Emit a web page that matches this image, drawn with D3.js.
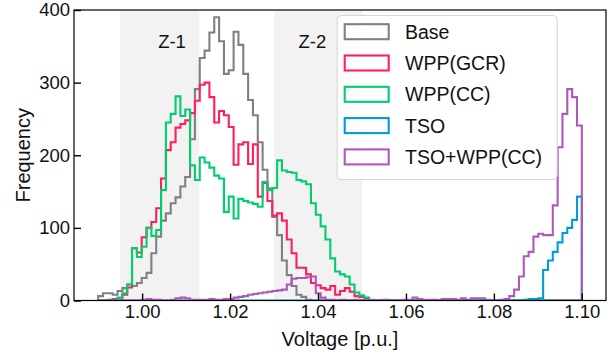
<!DOCTYPE html>
<html>
<head>
<meta charset="utf-8">
<script src="https://cdn.jsdelivr.net/npm/d3@7"></script>
<style>
    html, body { margin: 0; padding: 0; background: #fff; }
    svg text { font-family: "Liberation Sans", Arial, sans-serif; fill: #111; }
</style>
</head>
<body>
<div id="chart"></div>
<script>
// Voltage histograms, 100 common bins from 0.99 to 1.10 p.u.
const binStart = 0.99;
const binWidth = 0.0011;

const seriesNames = ['Base', 'WPP(GCR)', 'WPP(CC)', 'TSO', 'TSO+WPP(CC)'];
const seriesColors = ['#808080', '#ff1f5b', '#00cd6c', '#009ade', '#af58ba'];

const baseCounts = [
    6, 10, 10, 8, 13, 17, 22, 20, 24, 31,
    38, 65, 88, 110, 120, 134, 142, 157, 170, 222,
    291, 334, 344, 369, 390, 357, 312, 317, 370, 352,
    312, 276, 255, 218, 180, 154, 115, 90, 55, 35,
    20, 8, 5, 1, 0, 0, 0, 0, 0, 0,
    0, 0, 0, 0, 0, 0, 0, 0, 0, 0,
    0, 0, 0, 0, 0, 0, 0, 0, 0, 0,
    0, 0, 0, 0, 0, 0, 0, 0, 0, 0,
    0, 0, 0, 0, 0, 0, 0, 0, 0, 0,
    0, 0, 0, 0, 0, 0, 0, 0, 0, 0
];
const gcrCounts = [
    0, 0, 1, 2, 3, 8, 18, 72, 66, 87,
    100, 108, 127, 168, 207, 218, 238, 243, 248, 258,
    275, 297, 300, 280, 245, 261, 255, 239, 187, 215,
    218, 188, 215, 143, 162, 137, 117, 120, 110, 84,
    65, 45, 45, 36, 24, 21, 17, 15, 20, 8,
    13, 17, 12, 6, 5, 2, 0, 0, 0, 0,
    0, 0, 0, 0, 0, 0, 0, 0, 0, 0,
    0, 0, 0, 0, 0, 0, 0, 0, 0, 0,
    0, 0, 0, 0, 0, 0, 0, 0, 0, 0,
    0, 0, 0, 0, 0, 0, 0, 0, 0, 0
];
const ccCounts = [
    0, 0, 0, 1, 4, 10, 22, 72, 60, 74,
    100, 89, 97, 152, 245, 257, 281, 254, 263, 186,
    166, 197, 190, 183, 172, 168, 122, 143, 113, 140,
    137, 135, 133, 129, 163, 152, 155, 193, 179, 177,
    176, 166, 164, 160, 134, 118, 102, 84, 58, 40,
    36, 33, 22, 11, 7, 4, 0, 0, 0, 0,
    0, 0, 0, 0, 0, 0, 0, 0, 0, 0,
    0, 0, 0, 0, 0, 0, 0, 0, 0, 0,
    0, 0, 0, 0, 0, 0, 0, 0, 0, 0,
    0, 0, 0, 0, 0, 0, 0, 0, 0, 0
];
const tsoCounts = [
    0, 0, 0, 0, 0, 0, 0, 0, 0, 0,
    0, 0, 0, 0, 0, 0, 0, 0, 0, 0,
    0, 0, 0, 0, 0, 0, 0, 0, 0, 0,
    0, 0, 0, 0, 0, 0, 0, 0, 0, 0,
    0, 0, 0, 0, 0, 0, 0, 0, 0, 0,
    0, 0, 0, 0, 0, 0, 0, 0, 0, 0,
    0, 0, 0, 0, 0, 0, 0, 0, 0, 0,
    0, 0, 0, 0, 0, 0, 0, 0, 0, 0,
    0, 0, 0, 0, 0, 0, 0, 0, 1, 2,
    2, 3, 42, 55, 67, 80, 93, 100, 111, 143
];
const tsoCcCounts = [
    0, 0, 0, 0, 0, 0, 0, 0, 0, 1,
    2, 1, 1, 0, 0, 1, 3, 4, 3, 1,
    1, 1, 1, 2, 1, 1, 2, 2, 4, 5,
    6, 8, 9, 10, 11, 12, 13, 14, 15, 22,
    30, 31, 31, 32, 33, 10, 4, 1, 1, 0,
    1, 0, 0, 1, 0, 1, 1, 0, 0, 1,
    0, 0, 0, 1, 1, 4, 2, 1, 1, 1,
    0, 2, 2, 2, 1, 3, 1, 3, 3, 3,
    1, 0, 0, 1, 2, 6, 15, 33, 61, 67,
    88, 92, 90, 90, 131, 211, 257, 291, 280, 241
];

const zoneLabels = ['Z-1', 'Z-2'];
const zoneStarts = [0.995, 1.03];
const zoneEnds = [1.013, 1.05];
const zoneLabelX = [1.0068, 1.0387];
const zoneLabelY = 348;

const xTicks = [1.00, 1.02, 1.04, 1.06, 1.08, 1.10];
const yTicks = [0, 100, 200, 300, 400];

const HistChart = {
    width: 616,
    height: 354,
    margin: { top: 10, right: 10, bottom: 53.5, left: 74 },

    render() {
        const allCounts = [baseCounts, gcrCounts, ccCounts, tsoCounts, tsoCcCounts];
        const nBins = baseCounts.length;
        const binEnd = binStart + nBins * binWidth;
        const pad = (binEnd - binStart) * 0.05;

        const m = this.margin;
        const w = this.width - m.left - m.right;
        const h = this.height - m.top - m.bottom;

        const svg = d3.select('#chart')
            .append('svg')
            .attr('width', this.width)
            .attr('height', this.height);

        const g = svg.append('g')
            .attr('transform', `translate(${m.left},${m.top})`);

        const x = d3.scaleLinear()
            .domain([binStart - pad, binEnd + pad])
            .range([0, w]);

        const y = d3.scaleLinear()
            .domain([0, 400])
            .range([h, 0]);

        g.append('clipPath')
            .attr('id', 'plot-clip')
            .append('rect')
            .attr('width', w)
            .attr('height', h);

        // Shaded zones
        zoneLabels.forEach((label, i) => {
            g.append('rect')
                .attr('x', x(zoneStarts[i]))
                .attr('y', 0)
                .attr('width', x(zoneEnds[i]) - x(zoneStarts[i]))
                .attr('height', h)
                .attr('fill', '#f2f2f2');
        });

        // Step outlines
        const line = d3.line()
            .x(d => x(d[0]))
            .y(d => y(d[1]))
            .curve(d3.curveStepAfter);

        const plot = g.append('g').attr('clip-path', 'url(#plot-clip)');

        allCounts.forEach((counts, s) => {
            const pts = [[binStart, 0]];
            counts.forEach((c, i) => pts.push([binStart + i * binWidth, c]));
            pts.push([binEnd, counts[nBins - 1]]);
            pts.push([binEnd, 0]);

            plot.append('path')
                .datum(pts)
                .attr('fill', 'none')
                .attr('stroke', seriesColors[s])
                .attr('stroke-width', 2.1)
                .attr('stroke-linejoin', 'miter')
                .attr('d', line);
        });

        // Zone labels
        zoneLabels.forEach((label, i) => {
            g.append('text')
                .attr('x', x(zoneLabelX[i]))
                .attr('y', y(zoneLabelY))
                .attr('text-anchor', 'middle')
                .attr('font-size', '18.5px')
                .text(label);
        });

        // Frame
        g.append('rect')
            .attr('width', w)
            .attr('height', h)
            .attr('fill', 'none')
            .attr('stroke', '#000')
            .attr('stroke-width', 1.2);

        // Axes, ticks pointing inward
        const xAxis = g.append('g')
            .attr('transform', `translate(0,${h})`)
            .call(d3.axisBottom(x).tickValues(xTicks).tickFormat(d3.format('.2f'))
                .tickSizeInner(-7).tickSizeOuter(0).tickPadding(4.5));
        const yAxis = g.append('g')
            .call(d3.axisLeft(y).tickValues(yTicks).tickFormat(d3.format('d'))
                .tickSizeInner(-7).tickSizeOuter(0).tickPadding(4));

        [xAxis, yAxis].forEach(ax => {
            ax.select('.domain').remove();
            ax.selectAll('.tick line').attr('stroke', '#000').attr('stroke-width', 1.4);
            ax.selectAll('.tick text')
                .attr('font-size', '18.5px')
                .attr('font-family', '"Liberation Sans", Arial, sans-serif')
                .attr('fill', '#111');
        });

        // Axis titles
        g.append('text')
            .attr('x', w / 2)
            .attr('y', h + 45)
            .attr('text-anchor', 'middle')
            .attr('font-size', '20px')
            .text('Voltage [p.u.]');

        g.append('text')
            .attr('transform', 'rotate(-90)')
            .attr('x', -h / 2)
            .attr('y', -44.5)
            .attr('text-anchor', 'middle')
            .attr('font-size', '20px')
            .text('Frequency');

        this.addLegend(g);
    },

    addLegend(g) {
        const lx = 336.7 - this.margin.left;
        const ly = 15 - this.margin.top;
        const rowH = 31.3;

        const legend = g.append('g').attr('transform', `translate(${lx},${ly})`);

        legend.append('rect')
            .attr('x', 0.5)
            .attr('y', 0.5)
            .attr('width', 220)
            .attr('height', 164)
            .attr('rx', 4)
            .attr('fill', '#fff')
            .attr('fill-opacity', 0.8)
            .attr('stroke', '#d6d6d6')
            .attr('stroke-width', 1);

        seriesNames.forEach((name, i) => {
            const cy = 16.7 + i * rowH;
            legend.append('rect')
                .attr('x', 8)
                .attr('y', cy - 7.5)
                .attr('width', 44)
                .attr('height', 15)
                .attr('fill', 'none')
                .attr('stroke', seriesColors[i])
                .attr('stroke-width', 2.1);

            legend.append('text')
                .attr('x', 68.3)
                .attr('y', cy)
                .attr('dy', '0.36em')
                .attr('font-size', '19.5px')
                .text(name);
        });
    }
};

HistChart.render();
</script>
</body>
</html>
